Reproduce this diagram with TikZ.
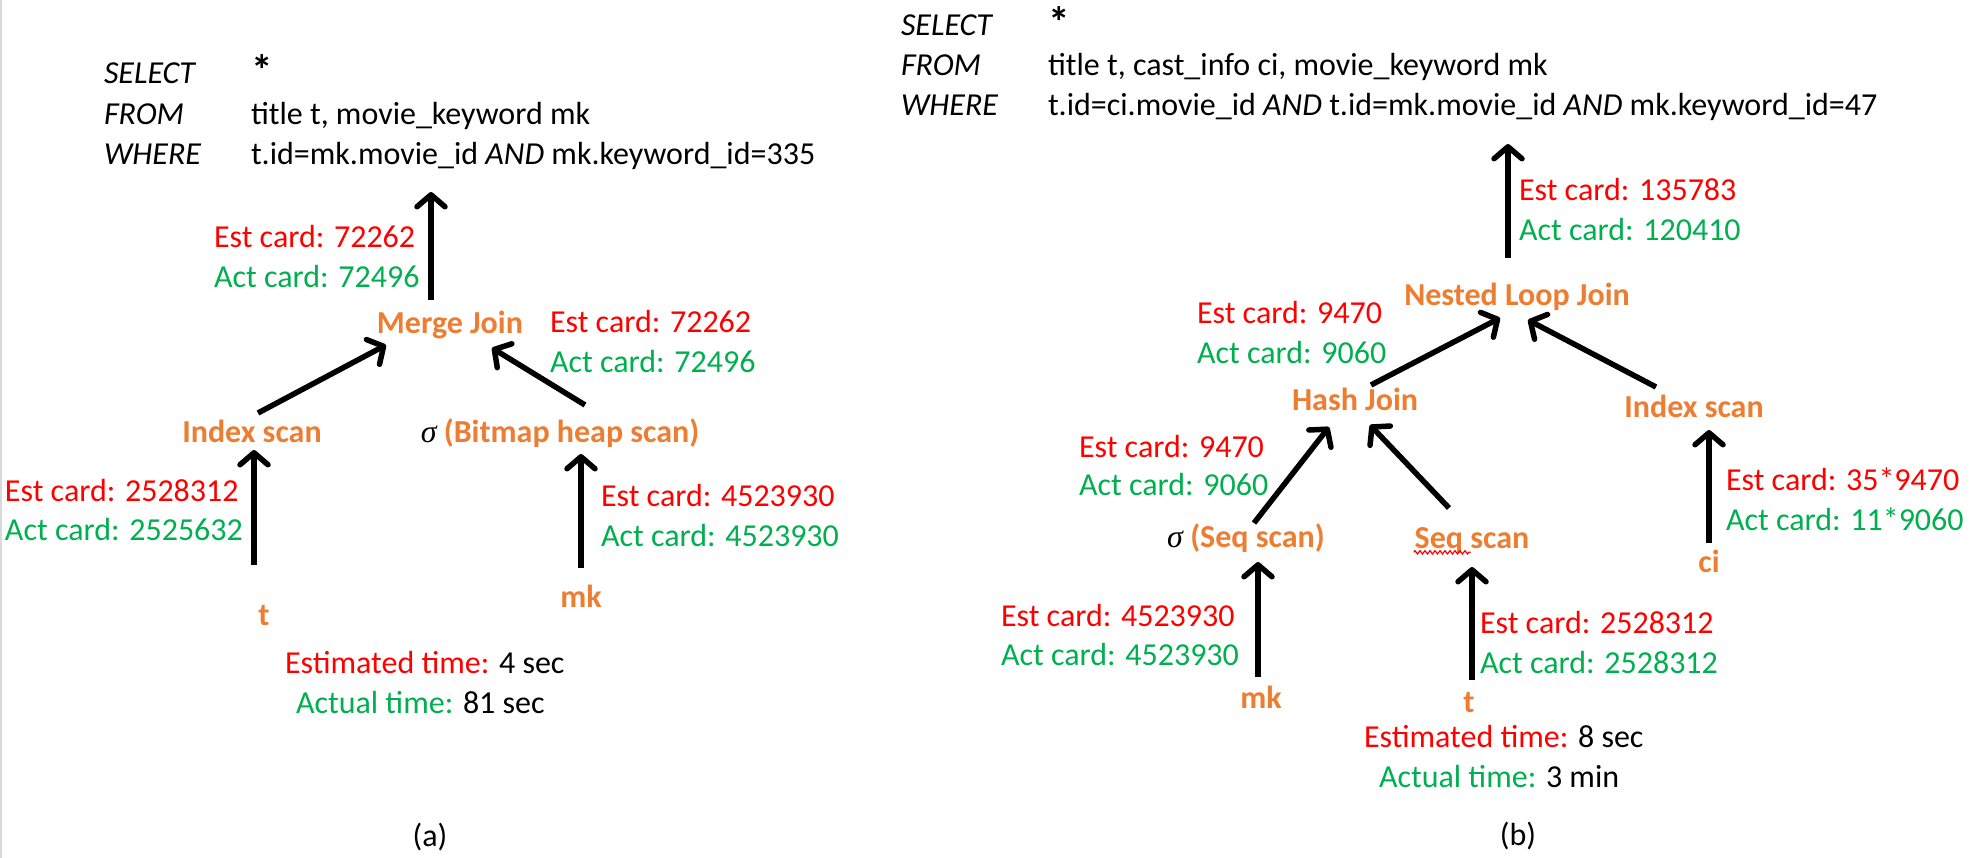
\documentclass[tikz,border=0pt]{standalone}
\usepackage{fontspec}
\setmainfont{Carlito}
\newfontfamily\sigfont{Liberation Serif}
\usetikzlibrary{arrows.meta,calc,decorations.pathmorphing}
\definecolor{cred}{HTML}{FF0000}
\definecolor{cgreen}{HTML}{00B050}
\definecolor{corange}{HTML}{ED7D31}
\newcommand{\sig}{{\color{black}\sigfont\itshape\mdseries σ}}
\newcommand{\bigstar}{\raisebox{-2pt}{\scalebox{1.35}{\textbf{*}}}}
\begin{document}
\begin{tikzpicture}[x=1pt,y=-1pt,
  every node/.style={inner sep=0pt, outer sep=0pt, font=\fontsize{32}{38}\selectfont, text height=20.6pt, text depth=0pt},
  lbl/.style={anchor=west},
  est/.style={anchor=west, text=cred},
  act/.style={anchor=west, text=cgreen},
  op/.style={anchor=center, text=corange, font=\fontsize{32}{38}\selectfont\bfseries},
  captxt/.style={anchor=center},
  arr/.style={line width=5.5pt, -{Straight Barb[length=12pt,width=28pt,round]}},
]
\useasboundingbox (0,0) rectangle (1970,858);
\fill[white] (0,0) rectangle (1970,858);
\draw[black!15, line width=2pt] (1,0) -- (1,858);

% ---------------- (a) ----------------
\node[lbl] (selA) at (104,73) {\textit{SELECT}};
\node[lbl] (starA) at (251,73) {\bigstar};
\node[lbl] (fromA) at (104,114) {\textit{FROM}};
\node[lbl] (fromvA) at (251,114) {title t, movie\_keyword mk};
\node[lbl] (whereA) at (104,154) {\textit{WHERE}};
\node[lbl] (wherevA) at (251,154) {t.id=mk.movie\_id \textit{AND} mk.keyword\_id=335};

\coordinate (qA) at (431,192);
\node[op] (mj) at (450,323) {Merge Join};
\node[op] (isA) at (252,432) {Index scan};
\node[op] (bh) at (560,432) {\sig\ (Bitmap heap scan)};
\node[op] (tA) at (264,615) {t};
\node[op] (mkA) at (581,597) {mk};

\node[est] (e1) at (214,237) {Est card: 72262};
\node[act] (a1) at (214,277) {Act card: 72496};
\node[est] (e2) at (550,322) {Est card: 72262};
\node[act] (a2) at (550,362) {Act card: 72496};
\node[est] (e3) at (5,491) {Est card: 2528312};
\node[act] (a3) at (5,530) {Act card: 2525632};
\node[est] (e4) at (601,496) {Est card: 4523930};
\node[act] (a4) at (601,536) {Act card: 4523930};

\node[lbl] (etA) at (285,663) {\textcolor{cred}{Estimated time:} 4 sec};
\node[lbl] (atA) at (296,703) {\textcolor{cgreen}{Actual time:} 81 sec};
\node[captxt] (capA) at (430,836) {(a)};

\draw[arr] ($(mj)+(-19,-23)$) -- (qA);
\draw[arr] ($(isA)+(6,-19)$) -- ($(mj)+(-64,22)$);
\draw[arr] ($(bh)+(25,-27)$) -- ($(mj)+(42,25)$);
\draw[arr] ($(tA)+(-10,-50)$) -- ($(isA)+(2,18)$);
\draw[arr] ($(mkA)+(0,-29)$) -- ($(bh)+(21,22)$);

% ---------------- (b) ----------------
\node[lbl] (selB) at (901,25) {\textit{SELECT}};
\node[lbl] (starB) at (1048,25) {\bigstar};
\node[lbl] (fromB) at (901,65) {\textit{FROM}};
\node[lbl] (fromvB) at (1048,65) {title t, cast\_info ci, movie\_keyword mk};
\node[lbl] (whereB) at (901,105) {\textit{WHERE}};
\node[lbl] (wherevB) at (1048,105) {t.id=ci.movie\_id \textit{AND} t.id=mk.movie\_id \textit{AND} mk.keyword\_id=47};

\coordinate (qB) at (1508,144);
\node[op] (nlj) at (1517,295) {Nested Loop Join};
\node[op] (hj) at (1355,400) {Hash Join};
\node[op] (isB) at (1694,407) {Index scan};
\node[op] (ss1) at (1246,537) {\sig\ (Seq scan)};
\node[op] (ss2) at (1472,538) {Seq scan};
\node[op] (ci) at (1709,562) {ci};
\node[op] (mkB) at (1261,698) {mk};
\node[op] (tB) at (1469,702) {t};

\draw[cred, line width=1.2pt, decorate, decoration={zigzag, segment length=5pt, amplitude=1.6pt}]
  ($(ss2.south west)+(-1,4)$) -- ++(57,0);

\node[est] (e5) at (1519,190) {Est card: 135783};
\node[act] (a5) at (1519,230) {Act card: 120410};
\node[est] (e6) at (1197,313) {Est card: 9470};
\node[act] (a6) at (1197,353) {Act card: 9060};
\node[est] (e7) at (1079,447) {Est card: 9470};
\node[act] (a7) at (1079,485) {Act card: 9060};
\node[est] (e8) at (1726,480) {Est card: 35*9470};
\node[act] (a8) at (1726,520) {Act card: 11*9060};
\node[est] (e9) at (1001,616) {Est card: 4523930};
\node[act] (a9) at (1001,655) {Act card: 4523930};
\node[est] (e10) at (1480,623) {Est card: 2528312};
\node[act] (a10) at (1480,663) {Act card: 2528312};

\node[lbl] (etB) at (1364,737) {\textcolor{cred}{Estimated time:} 8 sec};
\node[lbl] (atB) at (1379,777) {\textcolor{cgreen}{Actual time:} 3 min};
\node[captxt] (capB) at (1518,835) {(b)};

\draw[arr] ($(nlj)+(-9,-37)$) -- (qB);
\draw[arr] ($(hj)+(16,-15)$) -- ($(nlj)+(-17,23)$);
\draw[arr] ($(isB)+(-38,-20)$) -- ($(nlj)+(11,25)$);
\draw[arr] ($(ss1)+(8,-14)$) -- ($(hj)+(-26,27)$);
\draw[arr] ($(ss2)+(-23,-30)$) -- ($(hj)+(15,25)$);
\draw[arr] ($(ci)+(0,-19)$) -- ($(isB)+(15,23)$);
\draw[arr] ($(mkB)+(-3,-21)$) -- ($(ss1)+(12,25)$);
\draw[arr] ($(tB)+(3,-22)$) -- ($(ss2)+(0,29)$);
\end{tikzpicture}
\end{document}
